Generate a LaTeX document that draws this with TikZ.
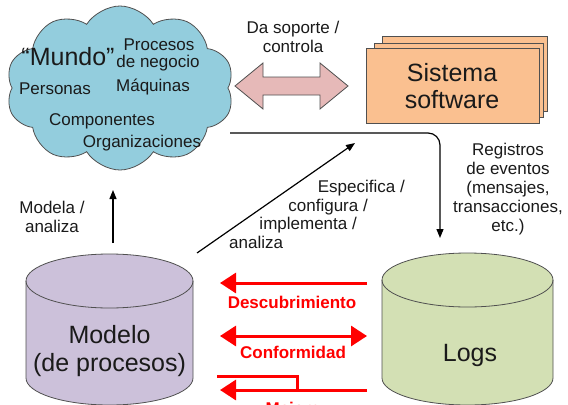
\documentclass[tikz,border=0pt]{standalone}
\usepackage{fontspec}
\setmainfont{Liberation Sans}
\usetikzlibrary{shapes.symbols,arrows.meta}
\definecolor{cloudc}{HTML}{93CDDD}
\definecolor{pinkc}{HTML}{E6B9B8}
\definecolor{orangec}{HTML}{FAC090}
\definecolor{lavc}{HTML}{CCC1DA}
\definecolor{greenc}{HTML}{D3E0B4}
\definecolor{edgec}{HTML}{505050}
\definecolor{txtc}{HTML}{1A1A1A}
\tikzset{
  small/.style={font=\fontsize{17bp}{19bp}\selectfont, text=txtc, inner sep=0pt, align=center},
  big/.style={font=\fontsize{25bp}{28bp}\selectfont, text=txtc, inner sep=0pt, align=center},
  redlbl/.style={font=\fontsize{17bp}{19bp}\selectfont\bfseries, text=red, inner sep=0pt},
  redarr/.style={draw=red, line width=3bp, -{Triangle[length=16bp,width=20bp]}},
  redarr2/.style={draw=red, line width=3bp, {Triangle[length=16bp,width=20bp]}-{Triangle[length=16bp,width=20bp]}},
  blackarr/.style={draw=black, line width=1.2bp, -{Triangle[length=9bp,width=7bp]}},
  shapeedge/.style={draw=edgec, line width=0.8bp},
}
\begin{document}
\begin{tikzpicture}[x=1bp,y=1bp]
\useasboundingbox (0,0) rectangle (568,404);
\clip (0,0) rectangle (568,404);
\fill[white] (0,0) rectangle (568,404);
% cloud
\node[cloud, cloud puffs=10, cloud puff arc=115, cloud ignores aspect, shapeedge, fill=cloudc,
      minimum width=228bp, minimum height=164bp] (world) at (120,316) {};
\node[big, anchor=base] (mundo) at (68,339) {“Mundo”};
\node[small, anchor=base] (procesos) at (159,354) {Procesos};
\node[small, anchor=base] (negocio) at (158,337) {de negocio};
\node[small, anchor=base] (personas) at (55,310) {Personas};
\node[small, anchor=base] (maquinas) at (153,313) {Máquinas};
\node[small, anchor=base] (componentes) at (102,279) {Componentes};
\node[small, anchor=base] (organizaciones) at (142,257) {Organizaciones};
% double block arrow
\draw[shapeedge, fill=pinkc] (235,318) -- (263,341) -- (263,327) -- (320,327) -- (320,341)
  -- (348,318) -- (320,295) -- (320,309) -- (263,309) -- (263,295) -- cycle;
\node[small] (soporte) at (293,367) {Da soporte /\\controla};
% software stack
\draw[shapeedge, fill=orangec] (382,293) rectangle (547,368);
\draw[shapeedge, fill=orangec] (374,287) rectangle (543,361);
\draw[shapeedge, fill=orangec] (366,281) rectangle (539,356);
\node[big, font=\fontsize{25bp}{27bp}\selectfont] (sistema) at (452,318) {Sistema\\software};
% cylinders
\draw[shapeedge, fill=lavc] (26,123) -- (26,26) arc[start angle=180,end angle=360,x radius=83.5,y radius=27]
  -- (193,123) arc[start angle=0,end angle=180,x radius=83.5,y radius=27] -- cycle;
\draw[shapeedge] (26,123) arc[start angle=180,end angle=360,x radius=83.5,y radius=27];
\node[big] (modelo) at (109.5,53) {Modelo\\(de procesos)};
\draw[shapeedge, fill=greenc] (382,124) -- (382,26) arc[start angle=180,end angle=360,x radius=85.5,y radius=27]
  -- (553,124) arc[start angle=0,end angle=180,x radius=85.5,y radius=27] -- cycle;
\draw[shapeedge] (382,124) arc[start angle=180,end angle=360,x radius=85.5,y radius=27];
\node[big, anchor=base] (logs) at (470,43) {Logs};
% coordinates for connectors
\coordinate (cloudout) at (230,271);
\coordinate (logsin) at (440,166);
\coordinate (modtop) at (113,161);
\coordinate (cloudbot) at (113,214);
\coordinate (modcorner) at (197,151);
\coordinate (diagend) at (355,261);
% gray arrow
\draw[blackarr, rounded corners=12bp] (cloudout) -| (logsin);
\node[small] (registros) at (508,215) {Registros\\de eventos\\(mensajes,\\transacciones,\\etc.)};
% modela arrow
\draw[blackarr] (modtop) -- (cloudbot);
\node[small] (modela) at (52,187) {Modela /\\analiza};
% diagonal arrow
\draw[blackarr] (modcorner) -- (diagend);
\node[small, anchor=base east] (esp) at (405,212) {Especifica /};
\node[small, anchor=base east] (conf) at (368,193) {configura /};
\node[small, anchor=base east] (impl) at (357,175) {implementa /};
\node[small, anchor=base west] (anal) at (229,156) {analiza};
% red arrows
\coordinate (dR) at (367,121); \coordinate (dL) at (220,121);
\coordinate (cR) at (367,68); \coordinate (cL) at (220,68);
\coordinate (mR) at (367,14); \coordinate (mL) at (220,14);
\coordinate (bA) at (217,28); \coordinate (bB) at (297,28); \coordinate (bC) at (297,14);
\draw[redarr] (dR) -- (dL);
\node[redlbl, anchor=base] (desc) at (292,96) {Descubrimiento};
\draw[redarr2] (cL) -- (cR);
\node[redlbl, anchor=base] (conform) at (293,46) {Conformidad};
\draw[redarr] (mR) -- (mL);
\draw[draw=red, line width=3bp] (bA) -- (bB) -- (bC);
\node[redlbl, anchor=base] (mejora) at (293,-10) {Mejora};
\end{tikzpicture}
\end{document}
